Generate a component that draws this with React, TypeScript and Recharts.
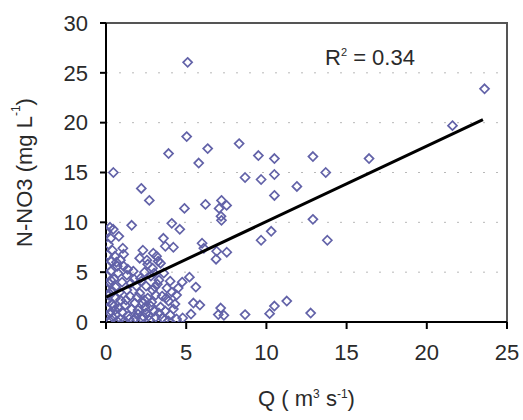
import React from "react";
import {
  ScatterChart,
  Scatter,
  XAxis,
  YAxis,
  CartesianGrid,
  ReferenceArea,
  Label
} from "recharts";

// discharge Q (m3/s) and nitrate N-NO3 (mg/L) for each sample
const qValues = [
  0.05, 0.45, 0.3, 0.8, 0.15, 0.4, 0.1, 0.35, 0.05, 0.3, 0.1, 0.5, 0.2, 0.05, 0.4,
  0.15, 0.6, 0.05, 0.35, 0.1, 0.55, 0.25, 0.05, 0.45, 0.2, 0.7, 0.6, 0.7, 0.55, 0.25,
  1.1, 0.9, 1.6, 1.7, 1.0, 1.3, 1.5, 0.9, 1.2, 1.8, 1.0, 1.4, 1.7, 0.9, 1.9,
  1.3, 1.6, 2.0, 1.1,
  2.2, 2.7, 2.3, 2.1, 2.6, 2.95, 3.15, 2.4, 2.8, 2.2, 3.0, 2.5, 2.9, 2.1, 2.6,
  3.1, 2.3, 2.8, 2.0, 2.5, 3.0, 2.2, 2.7, 3.1, 2.4, 2.9, 3.2,
  3.58, 3.7, 3.9, 4.1, 4.6, 4.2, 3.4, 3.6, 3.3, 3.8, 4.1, 4.4, 3.5, 3.9,
  4.3, 3.4, 3.7, 4.0, 4.4, 3.5, 3.9, 4.2, 4.5, 4.0,
  0.2, 0.5, 0.75, 0.3, 0.85, 0.6, 1.25, 1.45, 0.8, 1.15, 1.55, 1.85, 1.35, 2.45, 2.65,
  2.85, 2.35, 3.05, 3.3, 3.65, 1.95, 2.15, 0.65, 1.05, 3.25, 3.75, 2.55, 1.75,
  5.09, 23.6, 21.6, 5.03, 5.78, 6.34, 8.3, 9.5, 10.5, 12.9, 16.4, 0.46, 8.67, 9.67, 10.5,
  13.7, 11.9, 10.5, 4.89, 6.2, 7.2, 7.52, 7.05, 7.17, 7.2, 12.9, 9.67, 10.3, 13.8, 5.99,
  6.9, 7.53, 6.86, 6.1, 4.75, 5.2, 5.6, 5.45, 5.85, 5.3, 7.15, 7.0, 7.35, 8.67, 10.2,
  10.5, 11.27, 12.76, 4.78
];

const no3Values = [
  9.1, 9.3, 8.4, 8.6, 7.8, 7.2, 6.7, 6.1, 5.6, 5.1, 4.6, 4.3, 3.9, 3.4, 3.1,
  2.7, 2.4, 2.1, 1.8, 1.4, 1.2, 0.9, 0.6, 0.4, 0.15, 0.1, 3.5, 5.6, 6.6, 9.5,
  6.8, 6.2, 9.7, 5.1, 4.0, 3.2, 2.6, 2.2, 1.7, 1.9, 1.0, 0.6, 0.2, 0.3, 3.6,
  4.7, 1.3, 0.8, 5.6,
  13.4, 12.2, 7.2, 6.4, 5.8, 6.9, 6.6, 5.0, 4.6, 4.1, 4.9, 3.6, 3.2, 2.9, 2.4,
  2.7, 1.9, 1.6, 1.2, 0.9, 1.1, 0.4, 0.2, 0.5, 2.2, 5.4, 3.8,
  8.4, 7.6, 16.9, 9.9, 9.3, 7.5, 5.9, 4.9, 4.2, 3.4, 3.0, 2.7, 2.6, 2.1,
  1.8, 1.5, 1.1, 0.7, 0.3, 0.4, 0.1, 1.3, 3.4, 4.1,
  2.9, 1.6, 4.9, 4.2, 3.0, 0.7, 2.2, 0.3, 1.4, 0.1, 3.9, 0.4, 5.3, 1.5, 0.6,
  2.0, 0.5, 3.5, 0.9, 0.2, 2.5, 4.4, 6.0, 7.4, 6.1, 2.4, 6.2, 4.3,
  26.05, 23.4, 19.7, 18.6, 15.95, 17.4, 17.9, 16.7, 16.4, 16.6, 16.4, 15.0, 14.5, 14.3, 14.8,
  15.0, 13.6, 12.7, 11.4, 11.8, 12.2, 11.7, 11.4, 10.6, 10.2, 10.3, 8.2, 9.1, 8.2, 7.9,
  7.1, 7.0, 6.3, 7.4, 4.0, 4.5, 3.5, 1.9, 1.7, 0.8, 1.4, 0.74, 0.67, 0.74, 0.84,
  1.6, 2.1, 0.9, 0.4
];

// least-squares line endpoints as drawn
const trendQ = [0, 23.5];
const trendNO3 = [2.5, 20.3];

const xTicks = [0, 5, 10, 15, 20, 25];
const yTicks = [0, 5, 10, 15, 20, 25, 30];

const points = qValues.map((q, i) => ({ q, no3: no3Values[i] }));
const trendPoints = trendQ.map((q, i) => ({ q, no3: trendNO3[i] }));

const FONT = "'Liberation Sans', Arial, sans-serif";
const TXT = "#2a2a2a";
const MARK = "#6262a8";

const Diamond = (props: any) => {
  const { cx, cy } = props;
  const r = 4.5;
  return (
    <polygon
      points={`${cx},${cy - r} ${cx + r},${cy} ${cx},${cy + r} ${cx - r},${cy}`}
      fill="none"
      stroke={MARK}
      strokeWidth={1.7}
    />
  );
};

const NoDot = () => <g />;

const YTitle = (props: any) => {
  const { viewBox } = props;
  const cx = 24;
  const cy = viewBox.y + viewBox.height / 2;
  return (
    <text
      x={cx}
      y={cy}
      transform={`rotate(-90 ${cx} ${cy})`}
      textAnchor="middle"
      dominantBaseline="central"
      fontSize={22}
      fill={TXT}
      fontFamily={FONT}
    >
      N-NO3 (mg L<tspan dy={-8} fontSize={12}>-1</tspan>
      <tspan dy={8}>)</tspan>
    </text>
  );
};

const XTitle = (props: any) => {
  const { viewBox } = props;
  const cx = viewBox.x + viewBox.width / 2;
  const y = viewBox.y + 84;
  return (
    <text x={cx} y={y} textAnchor="middle" fontSize={22} fill={TXT} fontFamily={FONT}>
      Q ( m<tspan dy={-8} fontSize={12}>3</tspan>
      <tspan dy={8}> s</tspan>
      <tspan dy={-8} fontSize={12}>-1</tspan>
      <tspan dy={8}>)</tspan>
    </text>
  );
};

export default function App() {
  const tickStyle = { fontSize: 22, fill: TXT, fontFamily: FONT };
  return (
    <div style={{ position: "absolute", left: 0, top: 0, width: 523, height: 420, background: "#fff" }}>
      <ScatterChart width={523} height={420} margin={{ top: 23, right: 16, bottom: 0, left: 0 }}>
        <CartesianGrid
          horizontal={true}
          vertical={false}
          stroke="#b8b8b8"
          strokeDasharray="2 11"
        />
        <ReferenceArea
          x1={0}
          x2={25}
          y1={0}
          y2={30}
          fill="none"
          stroke="#555"
          strokeWidth={2}
          ifOverflow="visible"
        />
        <XAxis
          type="number"
          dataKey="q"
          domain={[0, 25]}
          ticks={xTicks}
          height={98}
          tickSize={7}
          tickMargin={15}
          tick={tickStyle}
          stroke="#000"
          strokeWidth={2}
          allowDataOverflow
        >
          <Label content={<XTitle />} />
        </XAxis>
        <YAxis
          type="number"
          dataKey="no3"
          domain={[0, 30]}
          ticks={yTicks}
          width={106}
          tickSize={6}
          tickMargin={12}
          tick={tickStyle}
          stroke="#000"
          strokeWidth={2}
          allowDataOverflow
        >
          <Label content={<YTitle />} />
        </YAxis>
        <Scatter data={points} shape={<Diamond />} isAnimationActive={false} />
        <Scatter
          data={trendPoints}
          shape={<NoDot />}
          line={{ stroke: "#000", strokeWidth: 3 }}
          isAnimationActive={false}
        />
      </ScatterChart>
      <div
        style={{
          position: "absolute",
          left: 325,
          top: 39,
          fontSize: 22,
          fontFamily: FONT,
          color: TXT,
          lineHeight: "26px",
          whiteSpace: "nowrap"
        }}
      >
        R<sup style={{ fontSize: 11, verticalAlign: "9px" }}>2</sup> = 0.34
      </div>
    </div>
  );
}
